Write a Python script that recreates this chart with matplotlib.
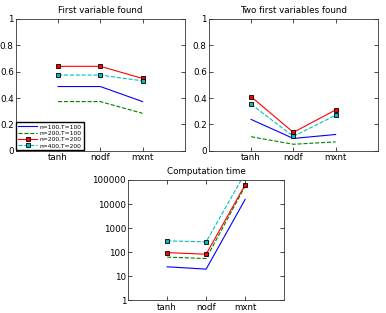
import numpy as np
import matplotlib
matplotlib.use('Agg')
import matplotlib.pyplot as plt
from matplotlib.ticker import FuncFormatter, FixedLocator, NullLocator

methods = ['tanh', 'nodf', 'mxnt']
labels = ['n=100,T=100', 'n=200,T=100', 'n=200,T=200', 'n=400,T=200']

# first variable found
first_found = [[0.487, 0.487, 0.373],
               [0.373, 0.373, 0.284],
               [0.64, 0.64, 0.548],
               [0.574, 0.574, 0.53]]

# two first variables found
two_found = [[0.238, 0.094, 0.124],
             [0.107, 0.05, 0.068],
             [0.41, 0.14, 0.31],
             [0.353, 0.11, 0.27]]

# computation time
comp_time = [[25, 20, 15500],
             [63, 55, 55000],
             [97, 83, 63000],
             [297, 270, 195000]]

styles = [dict(color='b', ls='-'),
          dict(color='g', ls='--'),
          dict(color='r', ls='-', marker='s'),
          dict(color='c', ls='--', marker='s')]

fig = plt.figure(figsize=(3.86, 3.13), dpi=100)
plt.rcParams['font.family'] = 'DejaVu Sans'

def draw(ax, data, title):
    x = np.arange(1, len(methods) + 1)
    lines = []
    for vals, st in zip(data, styles):
        l, = ax.plot(x, vals, lw=0.8, ms=3.2, mec='k', mew=0.6, **st)
        lines.append(l)
    ax.set_xlim(0, 4)
    ax.set_xticks(x)
    ax.set_xticklabels(methods)
    ax.set_title(title, fontsize=6.3, pad=4)
    ax.tick_params(labelsize=6.3, direction='in', top=True, right=True,
                   length=3, width=0.5, pad=1.5)
    for s in ax.spines.values():
        s.set_linewidth(0.6)
        s.set_color('#333333')
    return lines

ax1 = fig.add_axes([0.041, 0.518, 0.438, 0.422])
lines = draw(ax1, first_found, 'First variable found')
ax1.set_ylim(0, 1)
ax1.yaxis.set_major_formatter(FuncFormatter(lambda v, p: '%g' % v))
ax1.legend(lines, labels, loc='lower left', fontsize=4.3, handlelength=3.2,
           handletextpad=0.4, borderpad=0.3, labelspacing=0.2, borderaxespad=0.1,
           frameon=True, fancybox=False, edgecolor='k', framealpha=1)

ax2 = fig.add_axes([0.541, 0.518, 0.438, 0.422])
draw(ax2, two_found, 'Two first variables found')
ax2.set_ylim(0, 1)
ax2.yaxis.set_major_formatter(FuncFormatter(lambda v, p: '%g' % v))

ax3 = fig.add_axes([0.332, 0.04, 0.404, 0.385])
draw(ax3, comp_time, 'Computation time')
ax3.set_yscale('log')
ax3.set_ylim(1, 100000)
ax3.yaxis.set_major_locator(FixedLocator([1, 10, 100, 1000, 10000, 100000]))
ax3.yaxis.set_minor_locator(NullLocator())
ax3.yaxis.set_major_formatter(FuncFormatter(lambda v, p: '%d' % v))

fig.savefig('out.png', dpi=100)
